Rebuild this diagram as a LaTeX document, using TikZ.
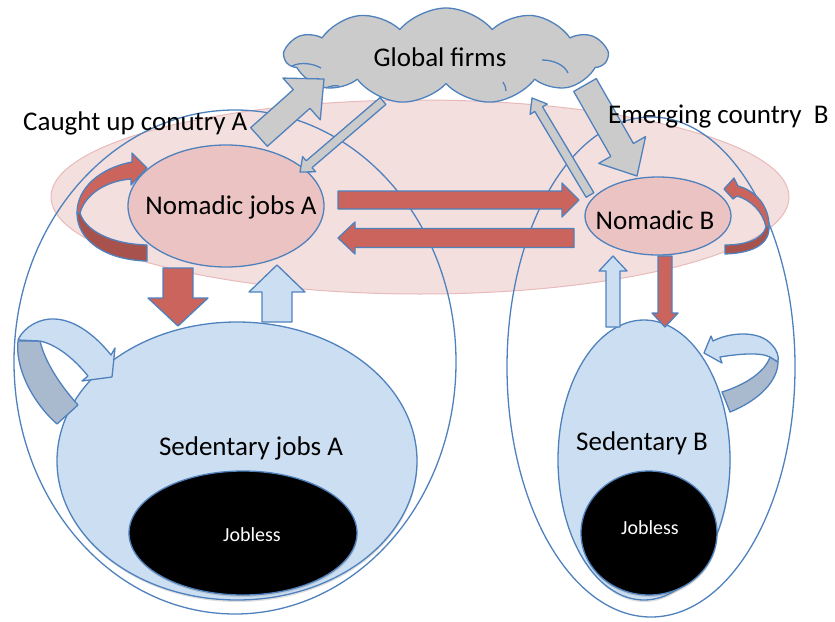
\documentclass[tikz,border=0pt]{standalone}
\usepackage{fontspec}
\setmainfont{Carlito}
\usetikzlibrary{calc,shapes.geometric,shapes.symbols,shadows}
\definecolor{ob}{RGB}{79,129,189}
\definecolor{lblue}{RGB}{204,222,242}
\definecolor{npink}{RGB}{234,195,194}
\definecolor{bpink}{RGB}{244,223,223}
\definecolor{bpinkline}{RGB}{232,186,186}
\definecolor{ared}{RGB}{202,100,92}
\definecolor{dred}{RGB}{168,82,78}
\definecolor{agray}{RGB}{203,203,203}
\definecolor{bgray}{RGB}{170,186,206}
% block arrow: style, tail, tip, shaft half width, head half width, head length
\newcommand\blockarrow[6]{%
  \path ($(#3)!#6!(#2)$) coordinate (bah);
  \path[#1] ($(#2)!#4!90:(#3)$) -- ($(bah)!#4!90:(#3)$) -- ($(bah)!#5!90:(#3)$) -- (#3)
    -- ($(bah)!#5!-90:(#3)$) -- ($(bah)!#4!-90:(#3)$) -- ($(#2)!#4!-90:(#3)$) -- cycle;}
\begin{document}
\begin{tikzpicture}[x=1pt,y=-1pt,line join=round,
  ol/.style={draw=ob,line width=1.3pt},
  lab/.style={font=\fontsize{27}{32}\selectfont, inner sep=0pt},
  smalllab/.style={font=\fontsize{20}{24}\selectfont, inner sep=0pt, text=white},
  ell/.style={ellipse, inner sep=0pt, ol},
  redarr/.style={ol, fill=ared},
  grayarr/.style={ol, fill=agray},
  bluearr/.style={ol, fill=lblue},
  shad/.style={drop shadow={shadow xshift=0.5pt, shadow yshift=-2pt, opacity=.25}}]
\useasboundingbox (0,0) rectangle (835,621);
% region of nomadic jobs
\node[ellipse, inner sep=0pt, fill=bpink, draw=bpinkline, line width=1pt,
  minimum width=738pt, minimum height=194pt] (region) at (420,197) {};
% countries
\node[ell, minimum width=442pt, minimum height=504pt] (cA) at (235,362) {};
\node[ell, minimum width=288pt, minimum height=500pt] (cB) at (651,367) {};
% sedentary and jobless
\node[ell, fill=lblue, shad, minimum width=360pt, minimum height=278pt] (sA) at (237,461) {};
\node[ell, fill=black, shad, minimum width=228pt, minimum height=124pt] (jA) at (243,533) {};
\node[ell, fill=lblue, shad, minimum width=172pt, minimum height=280pt] (sB) at (644,460) {};
\node[ell, fill=black, shad, minimum width=136pt, minimum height=124pt] (jB) at (649,533) {};
% nomadic
\node[ell, fill=npink, minimum width=196pt, minimum height=122pt] (nA) at (226,206) {};
\node[ell, fill=npink, minimum width=146pt, minimum height=78pt] (nB) at (658,216) {};
% cloud
\node[cloud, ol, fill=agray, cloud puffs=11, cloud puff arc=100, aspect=3.3,
  minimum width=322pt, minimum height=96pt, inner sep=0pt] (cloud) at (446,56) {};
\draw[ob, line width=1.3pt] (292,66) .. controls (300,62) and (312,63) .. (321,68);
\draw[ob, line width=1.3pt] (326,88) .. controls (330,86) and (335,85) .. (339,86);
\draw[ob, line width=1.3pt] (542,60) .. controls (555,60) and (565,66) .. (568,73);
\draw[ob, line width=1.3pt] (503,82) .. controls (505,85) and (506,88) .. (506,91);
% arrow end points
\coordinate (g1t) at (259,137); \coordinate (g1h) at (324,79);
\coordinate (g2t) at (383,101); \coordinate (g2h) at (300,172);
\coordinate (g3t) at (590,195); \coordinate (g3h) at (532,98);
\coordinate (g4t) at (585,85);  \coordinate (g4h) at (637,176);
\coordinate (r1t) at (338,200); \coordinate (r1h) at (579,200);
\coordinate (r2t) at (574,238); \coordinate (r2h) at (338,238);
\coordinate (r3t) at (178,268); \coordinate (r3h) at (178,326);
\coordinate (b1t) at (277,322); \coordinate (b1h) at (277,265);
\coordinate (b2t) at (613,327); \coordinate (b2h) at (613,256);
\coordinate (r4t) at (665,256); \coordinate (r4h) at (665,327);
% straight block arrows
\blockarrow{grayarr}{g1t}{g1h}{12.5pt}{28pt}{30pt}
\blockarrow{grayarr}{g2t}{g2h}{4.5pt}{10pt}{12pt}
\blockarrow{grayarr}{g3t}{g3h}{4.5pt}{10pt}{13pt}
\blockarrow{grayarr}{g4t}{g4h}{13pt}{27pt}{30pt}
\blockarrow{redarr}{r1t}{r1h}{9pt}{17pt}{17pt}
\blockarrow{redarr}{r2t}{r2h}{9.5pt}{16pt}{17pt}
\blockarrow{redarr}{r3t}{r3h}{15pt}{30pt}{28pt}
\blockarrow{bluearr}{b1t}{b1h}{15pt}{28pt}{27pt}
\blockarrow{bluearr}{b2t}{b2h}{7pt}{14pt}{15pt}
\blockarrow{redarr}{r4t}{r4h}{7pt}{13pt}{14pt}
% curved loop arrows
\path[ol, fill=dred] (77,213) .. controls (77,240) and (105,260) .. (147,261) -- (147,245)
  .. controls (110,244) and (85,230) .. (80,213) -- cycle;
\path[ol, fill=ared] (77,213) .. controls (77,188) and (100,168) .. (132,162) -- (132,153)
  -- (147,168) -- (131,185) -- (131,179) .. controls (105,181) and (85,195) .. (80,213) -- cycle;
\path[ol, fill=dred] (769,226) .. controls (770,243) and (755,253) .. (725,254) -- (725,245)
  .. controls (748,245) and (763,238) .. (766,227) -- cycle;
\path[ol, fill=ared] (769,226) .. controls (769,206) and (756,191) .. (738,186) -- (734,178)
  -- (724,189) -- (733,199) -- (737,196) .. controls (751,200) and (763,212) .. (766,227) -- cycle;
\path[ol, fill=bgray] (18,341) .. controls (15,365) and (30,400) .. (57,424) -- (78,405)
  .. controls (60,385) and (45,362) .. (40,341) -- cycle;
\path[ol, fill=lblue] (18,340) .. controls (25,325) and (42,318) .. (55,319)
  .. controls (75,320) and (95,335) .. (111,355) -- (115,348) -- (112,377) -- (82,381) -- (88,376)
  .. controls (75,360) and (58,345) .. (40,341) -- cycle;
\path[ol, fill=bgray] (778,362) .. controls (778,380) and (760,400) .. (730,412) -- (722,392)
  .. controls (745,385) and (765,372) .. (770,357) -- cycle;
\path[ol, fill=lblue] (713,341) .. controls (730,332) and (760,330) .. (772,345)
  .. controls (777,350) and (779,356) .. (778,362) -- (770,357)
  .. controls (760,352) and (738,354) .. (720,357) -- (722,363) -- (704,353) -- (711,336) -- cycle;
% labels
\node[lab] (tGlobal) at (440,57) {Global firms};
\node[lab] (tnA) at (231,207) {Nomadic jobs A};
\node[lab] (tnB) at (655,220) {Nomadic B};
\node[lab] (tsA) at (251,448) {Sedentary jobs A};
\node[lab] (tsB) at (642,443) {Sedentary B};
\node[smalllab] (tjA) at (252,535) {Jobless};
\node[smalllab] (tjB) at (650,528) {Jobless};
\node[lab, anchor=base west] (tcA) at (23,130) {Caught up conutry A};
\node[lab, anchor=base west] (tcB) at (608,123) {Emerging country~~B};
\end{tikzpicture}
\end{document}
